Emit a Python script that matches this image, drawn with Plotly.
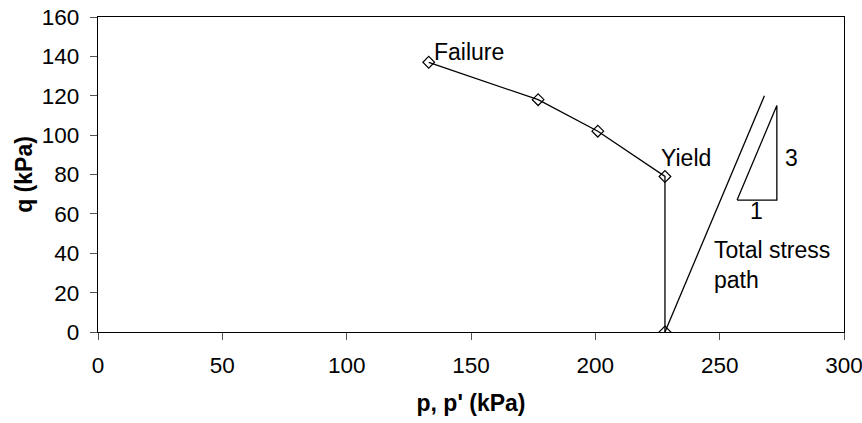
import plotly.graph_objects as go

# Effective stress path (p', q)
p_eff = [228, 228, 201, 177, 133]
q_eff = [0, 79, 102, 118, 137]

# Total stress path (slope 3:1)
p_total = [228, 268]
q_total = [0, 120]

# Slope triangle
p_tri = [257, 273, 273, 257]
q_tri = [67, 67, 115, 67]

x_ticks = [0, 50, 100, 150, 200, 250, 300]
y_ticks = [0, 20, 40, 60, 80, 100, 120, 140, 160]

FONT = "Liberation Sans, Arial, sans-serif"
line_style = dict(color="black", width=1.3)

fig = go.Figure()
fig.add_trace(go.Scatter(x=p_eff, y=q_eff, mode="lines+markers", line=line_style,
                         marker=dict(symbol="diamond-open", size=9, color="black",
                                     line=dict(width=1.2, color="black")),
                         showlegend=False, hoverinfo="skip"))
fig.add_trace(go.Scatter(x=p_total, y=q_total, mode="lines", line=line_style,
                         showlegend=False, hoverinfo="skip"))
fig.add_trace(go.Scatter(x=p_tri, y=q_tri, mode="lines", line=line_style,
                         showlegend=False, hoverinfo="skip"))

ann_font = dict(family=FONT, size=23, color="black")
annotations = [
    dict(x=134.5, y=142.3, text="Failure", xanchor="left", yanchor="middle"),
    dict(x=225.8, y=88.5, text="Yield", xanchor="left", yanchor="middle"),
    dict(x=275.5, y=88.5, text="3", xanchor="left", yanchor="middle"),
    dict(x=265.0, y=61.5, text="1", xanchor="center", yanchor="middle"),
    dict(x=246.8, y=34.0, text="Total stress<br>path", xanchor="left", yanchor="middle",
         align="left"),
]
for a in annotations:
    fig.add_annotation(xref="x", yref="y", showarrow=False, font=ann_font, **a)

axis_common = dict(
    showgrid=False, zeroline=False, showline=True, linecolor="black", linewidth=1.3,
    mirror=True, ticks="outside", ticklen=7, tickwidth=1, tickcolor="#555555",
    tickfont=dict(family=FONT, size=22.5, color="black"), ticklabeloverflow="allow",
)

fig.update_xaxes(range=[0, 300], tickvals=x_ticks, ticklabelstandoff=6,
                 title=dict(text="<b>p, p' (kPa)</b>", font=dict(family=FONT, size=23, color="black"),
                            standoff=17),
                 **axis_common)
fig.update_yaxes(range=[0, 160], tickvals=y_ticks, ticklabelstandoff=6,
                 title=dict(text="<b>q (kPa)</b>", font=dict(family=FONT, size=23, color="black"),
                            standoff=2),
                 **axis_common)

fig.update_layout(
    width=862, height=423,
    margin=dict(l=97.5, r=18, t=16.7, b=90.7, autoexpand=False),
    paper_bgcolor="white", plot_bgcolor="white",
    font=dict(family=FONT, color="black"),
)

fig.write_html("out.html")
